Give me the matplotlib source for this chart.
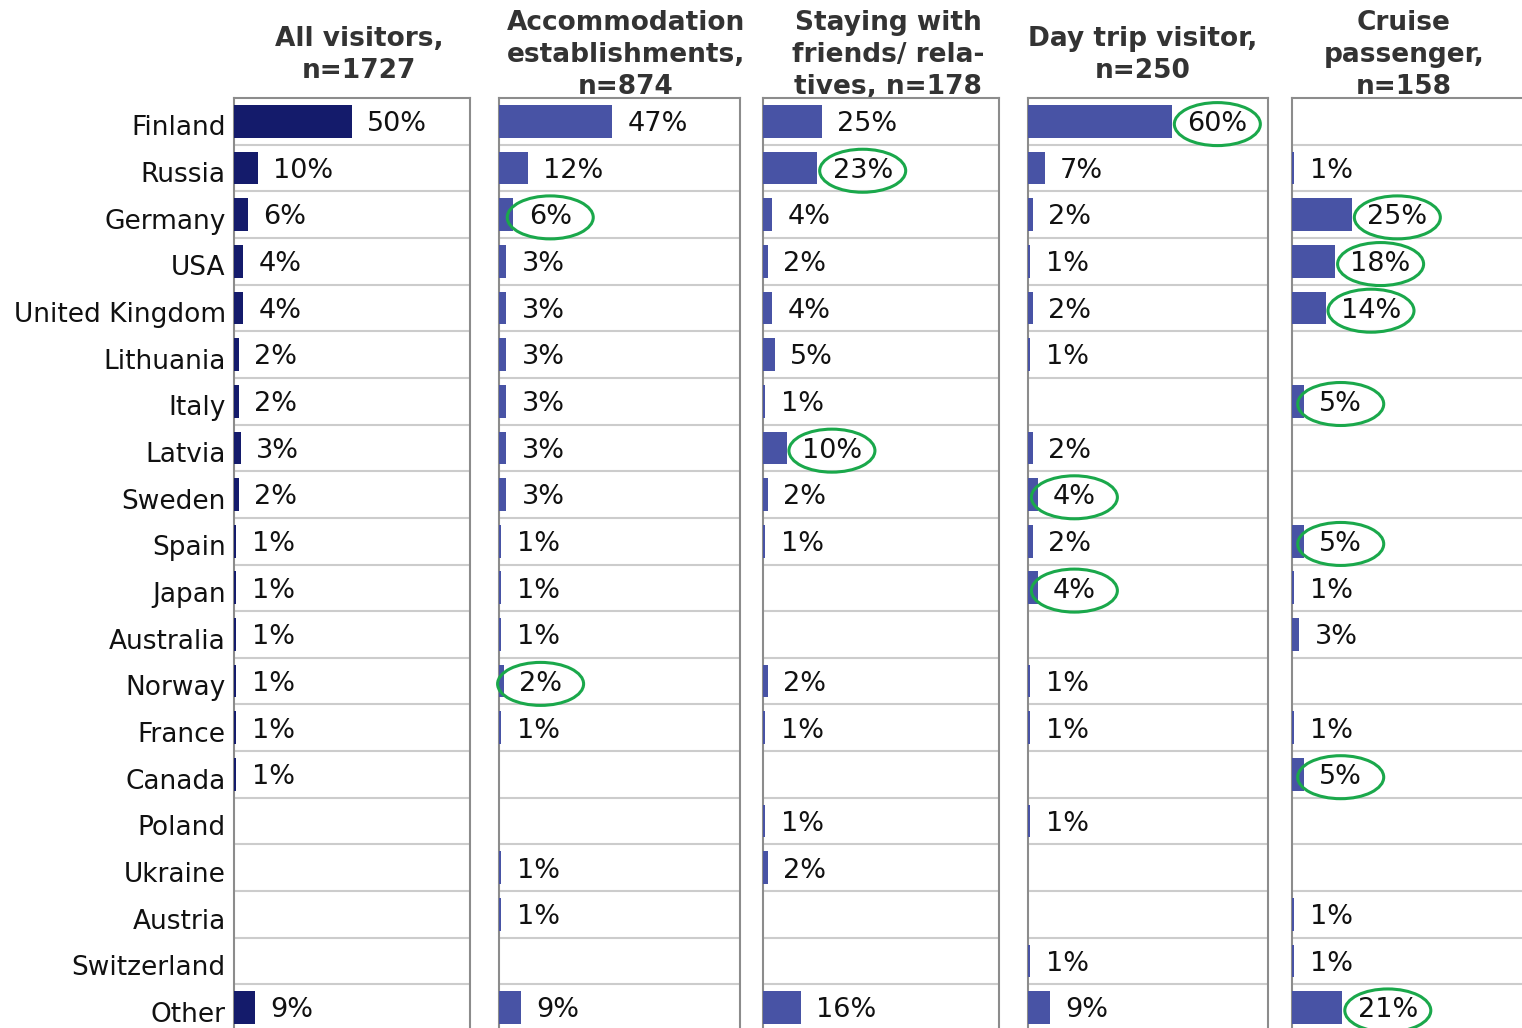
import matplotlib
matplotlib.use("Agg")
import matplotlib.pyplot as plt
from matplotlib.patches import Ellipse
from matplotlib.transforms import IdentityTransform, ScaledTranslation
import numpy as np

plt.rcParams['font.family'] = ['DejaVu Sans']

countries = ['Finland', 'Russia', 'Germany', 'USA', 'United Kingdom', 'Lithuania', 'Italy',
             'Latvia', 'Sweden', 'Spain', 'Japan', 'Australia', 'Norway', 'France', 'Canada',
             'Poland', 'Ukraine', 'Austria', 'Switzerland', 'Other']

titles = ['All visitors,\nn=1727',
          'Accommodation\nestablishments,\nn=874',
          'Staying with\nfriends/ rela-\ntives, n=178',
          'Day trip visitor,\nn=250',
          'Cruise\npassenger,\nn=158']

# None = no answer shown for that country
all_visitors = [50, 10, 6, 4, 4, 2, 2, 3, 2, 1, 1, 1, 1, 1, 1, None, None, None, None, 9]
accommodation = [47, 12, 6, 3, 3, 3, 3, 3, 3, 1, 1, 1, 2, 1, None, None, 1, 1, None, 9]
staying_friends = [25, 23, 4, 2, 4, 5, 1, 10, 2, 1, None, None, 2, 1, None, 1, 2, None, None, 16]
day_trip = [60, 7, 2, 1, 2, 1, None, 2, 4, 2, 4, None, 1, 1, None, 1, None, None, 1, 9]
cruise = [None, 1, 25, 18, 14, None, 5, None, None, 5, 1, 3, None, 1, 5, None, None, 1, 1, 21]

# highlighted (circled) country names per panel
highlight_accommodation = ['Germany', 'Norway']
highlight_staying = ['Russia', 'Latvia']
highlight_day = ['Finland', 'Sweden', 'Japan']
highlight_cruise = ['Germany', 'USA', 'United Kingdom', 'Italy', 'Spain', 'Canada', 'Other']

series = [all_visitors, accommodation, staying_friends, day_trip, cruise]
highlights = [[], highlight_accommodation, highlight_staying, highlight_day, highlight_cruise]
bar_colors = ['#141b6b', '#4853a5', '#4853a5', '#4853a5', '#4853a5']

W, H = 1522, 1028
fig = plt.figure(figsize=(W / 100, H / 100), dpi=100)

lefts = [234, 499, 763, 1028, 1292]
widths = [236, 241, 236, 240, 240]
title_x = [359, 626, 888, 1143, 1404]
top_px, bottom_px = 98, 1031

n = len(countries)
y = np.arange(n)
circled = []

for i, (vals, hl) in enumerate(zip(series, highlights)):
    ax = fig.add_axes([lefts[i] / W, (H - bottom_px) / H, widths[i] / W, (bottom_px - top_px) / H])
    ax.set_zorder(5)
    ax.set_facecolor('white')
    v = np.array([np.nan if x is None else x for x in vals], dtype=float)
    ax.barh(y, np.nan_to_num(v), height=0.7, color=bar_colors[i], zorder=3)
    ax.set_xlim(0, 100)
    ax.set_ylim(n - 0.5, -0.5)
    for k in range(1, n):
        ax.axhline(k - 0.5, color='#cccccc', lw=1.5, zorder=1)
    for k, val in enumerate(vals):
        if val is None:
            continue
        t = ax.annotate(f'{val}%', (val, k), xytext=(11, -2), textcoords='offset points',
                        va='center', ha='left', fontsize=19.5, color='#111111', zorder=6)
        if countries[k] in hl:
            circled.append(t)
    ax.set_xticks([])
    if i == 0:
        ax.set_yticks(y)
        ax.set_yticklabels(countries, fontsize=19, color='#111111')
        ax.tick_params(axis='y', length=0, pad=6)
        shift = ScaledTranslation(0, -3 / 72, fig.dpi_scale_trans)
        for lab in ax.get_yticklabels():
            lab.set_transform(lab.get_transform() + shift)
    else:
        ax.set_yticks([])
    for s in ['left', 'top', 'right']:
        ax.spines[s].set_color('#8c8c8c')
        ax.spines[s].set_linewidth(1.5)
    ax.spines['bottom'].set_visible(False)
    fig.text(title_x[i] / W, (H - 55) / H, titles[i], ha='center', va='center', fontsize=19,
             fontweight='bold', color='#333333', linespacing=1.3, zorder=1)

fig.canvas.draw()
renderer = fig.canvas.get_renderer()
for t in circled:
    bb = t.get_window_extent(renderer)
    cx = (bb.x0 + bb.x1) / 2
    cy = (bb.y0 + bb.y1) / 2
    e = Ellipse((cx, cy), 86, 43, transform=IdentityTransform(), fill=False,
                edgecolor='#1aa84b', lw=2.2, zorder=10)
    fig.add_artist(e)

fig.savefig('out.png', dpi=100)
